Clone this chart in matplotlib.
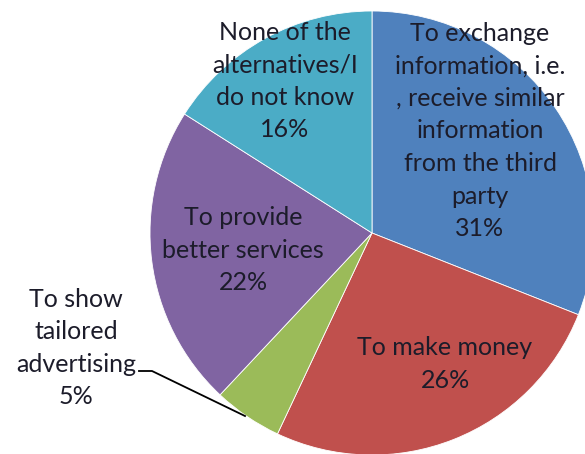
import matplotlib
matplotlib.use("Agg")
import matplotlib.pyplot as plt

# Pie data (clockwise from 12 o'clock)
labels = [
    "To exchange\ninformation, i.e.\n, receive similar\ninformation\nfrom the third\nparty",
    "To make money",
    "To show\ntailored\nadvertising",
    "To provide\nbetter services",
    "None of the\nalternatives/I\ndo not know",
]
shares = [31, 26, 5, 22, 16]
colors = ["#4F81BD", "#C0504D", "#9BBB59", "#8064A2", "#4BACC6"]

# label centres in pixel coords (x, y from top)
label_pos = [(480, 131), (445, 364), (76, 348), (243, 250), (285, 81)]

W, H = 585, 454
plt.rcParams["font.family"] = ["Lato", "DejaVu Sans"]

fig = plt.figure(figsize=(W / 100, H / 100), dpi=100)
ax = fig.add_axes([0, 0, 1, 1])

cx, cy, r = 372, H - 233, 222
wedges, _ = ax.pie(shares, colors=colors, startangle=90, counterclock=False,
                   center=(cx, cy), radius=r,
                   wedgeprops=dict(edgecolor="white", linewidth=0.6))

ax.set_xlim(0, W)
ax.set_ylim(0, H)
ax.set_aspect("equal")
ax.axis("off")

txt_color = "#1c1c2a"
for i, (lab, val) in enumerate(zip(labels, shares)):
    x, y = label_pos[i]
    ax.text(x, H - y, f"{lab}\n{val}%", ha="center", va="center",
            fontsize=18, color=txt_color, linespacing=1.5)

# leader line for the small slice
ax.plot([139, 152, 245], [H - 371, H - 371, H - 416], color="black", lw=1.3)

fig.savefig("out.png", dpi=100)
